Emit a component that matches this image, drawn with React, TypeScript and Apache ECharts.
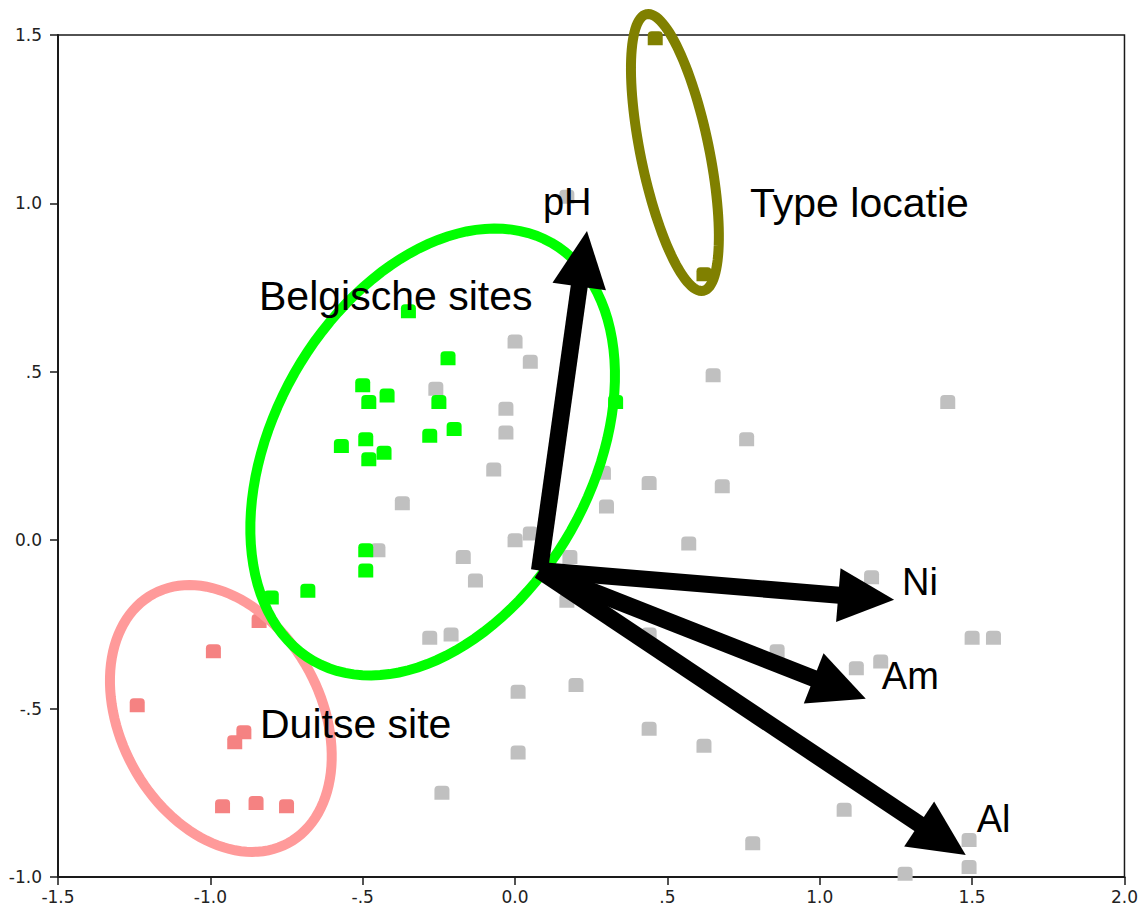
import React, { useEffect, useRef } from "react";
import * as echarts from "echarts";

// Axis ticks and their printed labels
const xTickValues = [-1.5, -1.0, -0.5, 0.0, 0.5, 1.0, 1.5, 2.0];
const xTickLabels = ["-1.5", "-1.0", "-.5", "0.0", ".5", "1.0", "1.5", "2.0"];
const yTickValues = [-1.0, -0.5, 0.0, 0.5, 1.0, 1.5];
const yTickLabels = ["-1.0", "-.5", "0.0", ".5", "1.0", "1.5"];

// Site scores [component 1, component 2]
const otherSites: [number, number][] = [
  [0.65, 0.49], [0.76, 0.30], [1.42, 0.41], [0.44, 0.17], [0.68, 0.16],
  [0.29, 0.20], [0.30, 0.10], [0.57, -0.01], [1.17, -0.11], [1.50, -0.29],
  [1.57, -0.29], [0.86, -0.33], [1.12, -0.38], [1.20, -0.36], [0.44, -0.28],
  [1.08, -0.80], [0.78, -0.90], [1.49, -0.89], [1.49, -0.97], [1.28, -0.99],
  [0.01, -0.45], [0.20, -0.43], [-0.28, -0.29], [-0.21, -0.28], [0.01, -0.63],
  [0.44, -0.56], [0.62, -0.61], [-0.24, -0.75], [-0.37, 0.11], [-0.45, -0.03],
  [-0.17, -0.05], [-0.13, -0.12], [0.0, 0.0], [0.05, 0.02], [0.18, -0.05],
  [0.17, -0.18], [0.0, 0.59], [0.05, 0.53], [-0.03, 0.39], [-0.03, 0.32],
  [-0.07, 0.21], [-0.26, 0.45], [0.17, 1.02],
];
const belgianSites: [number, number][] = [
  [-0.35, 0.68], [-0.22, 0.54], [-0.50, 0.46], [-0.42, 0.43], [-0.48, 0.41],
  [-0.25, 0.41], [-0.20, 0.33], [-0.28, 0.31], [-0.49, 0.30], [-0.57, 0.28],
  [-0.43, 0.26], [-0.48, 0.24], [-0.49, -0.03], [-0.49, -0.09], [-0.80, -0.17],
  [-0.68, -0.15], [0.33, 0.41],
];
const germanSites: [number, number][] = [
  [-0.84, -0.24], [-0.99, -0.33], [-1.24, -0.49], [-0.89, -0.57], [-0.92, -0.60],
  [-0.96, -0.79], [-0.85, -0.78], [-0.75, -0.79],
];
const locationTypeSites: [number, number][] = [
  [0.46, 1.49], [0.62, 0.79],
];

// Variable loadings drawn as arrows from a common origin
const loadingNames = ["pH", "Ni", "Am", "Al"];
const loadingOrigin: [number, number] = [0.08, -0.09];
const loadingTips: [number, number][] = [
  [0.236, 0.918], [1.244, -0.177], [1.151, -0.471], [1.479, -0.935],
];

// Group outlines: centre plus two conjugate semi-axis vectors, in data units
const outlineCentres: [number, number][] = [
  [-0.9656, -0.5294], // Duitse site
  [0.5246, 1.1511],   // Type locatie
  [-0.2705, 0.2619],  // Belgische sites
];
const outlineAxisU: [number, number][] = [
  [-0.221, 0.370], [-0.0931, 0.4106], [0.390, 0.621],
];
const outlineAxisV: [number, number][] = [
  [0.2892, 0.1416], [0.1102, 0.0205], [0.4538, -0.2337],
];
const outlineColors = ["#ff9a9a", "#808000", "#00ff00"];

// Pixel offsets of the arrow captions from the arrow tips
const captionOffsets: [number, number][] = [[-44, -29], [8, -18], [16, -23], [11, -36]];

const FONT = '"Liberation Sans", Arial, Helvetica, sans-serif';
const TICK_FONT = '"DejaVu Sans", Verdana, sans-serif';
const MARKER = "path://M0,4 Q0,0 4,0 L11,0 Q15,0 15,4 L15,14 L0,14 Z";

const tickFormatter = (vals: number[], labels: string[]) => (v: number) => {
  const i = vals.findIndex((t) => Math.abs(t - v) < 1e-6);
  return i >= 0 ? labels[i] : "";
};

const scatter = (data: [number, number][], color: string, z: number) => ({
  type: "scatter",
  data,
  symbol: MARKER,
  symbolSize: [15, 14],
  itemStyle: { color, opacity: 1 },
  clip: false,
  z,
  silent: true,
});

export default function App() {
  const ref = useRef<HTMLDivElement>(null);

  useEffect(() => {
    document.body.style.margin = "0";
    if (!ref.current) return;
    const chart = echarts.init(ref.current, undefined, { renderer: "svg" });

    const axisCommon = {
      type: "value",
      axisLine: { show: true, onZero: false, lineStyle: { color: "#1a1a1a", width: 2 } },
      axisTick: { show: true, length: 8, lineStyle: { color: "#1a1a1a", width: 1.5 } },
      splitLine: { show: false },
    };

    const option: any = {
      animation: false,
      backgroundColor: "#ffffff",
      grid: {
        left: 58, right: 16, top: 35, bottom: 33,
        show: true, borderColor: "#1a1a1a", borderWidth: 1.5,
      },
      xAxis: {
        ...axisCommon,
        min: -1.5, max: 2.0, interval: 0.5,
        axisLabel: {
          formatter: tickFormatter(xTickValues, xTickLabels),
          fontSize: 17, color: "#222", margin: 11, fontFamily: TICK_FONT,
          showMinLabel: true, showMaxLabel: true,
        },
      },
      yAxis: {
        ...axisCommon,
        min: -1.0, max: 1.5, interval: 0.5,
        axisLabel: {
          formatter: tickFormatter(yTickValues, yTickLabels),
          fontSize: 17, color: "#222", margin: 16, fontFamily: TICK_FONT,
          showMinLabel: true, showMaxLabel: true,
        },
      },
      series: [
        scatter(otherSites, "#c0c0c0", 2),
        scatter(belgianSites, "#00ff00", 3),
        scatter(germanSites, "#f58282", 3),
        scatter(locationTypeSites, "#808000", 3),
        {
          type: "custom",
          coordinateSystem: "cartesian2d",
          data: outlineCentres,
          z: 5,
          silent: true,
          renderItem: (params: any, api: any) => {
            const i = params.dataIndex;
            const cx = api.value(0);
            const cy = api.value(1);
            const u = outlineAxisU[i];
            const v = outlineAxisV[i];
            const pts: number[][] = [];
            const n = 120;
            for (let k = 0; k < n; k++) {
              const t = (k / n) * Math.PI * 2;
              pts.push(api.coord([
                cx + u[0] * Math.cos(t) + v[0] * Math.sin(t),
                cy + u[1] * Math.cos(t) + v[1] * Math.sin(t),
              ]));
            }
            return {
              type: "polygon",
              shape: { points: pts },
              style: { fill: "none", stroke: outlineColors[i], lineWidth: 10 },
            };
          },
        },
        {
          type: "custom",
          coordinateSystem: "cartesian2d",
          data: loadingTips,
          z: 6,
          silent: true,
          renderItem: (params: any, api: any) => {
            const i = params.dataIndex;
            const o = api.coord(loadingOrigin);
            const p = api.coord([api.value(0), api.value(1)]);
            const dx = p[0] - o[0];
            const dy = p[1] - o[1];
            const len = Math.sqrt(dx * dx + dy * dy);
            const ux = dx / len;
            const uy = dy / len;
            const nx = -uy;
            const ny = ux;
            const headLen = 56;
            const headHalf = 27;
            const shaftHalf = 8.5;
            const bx = p[0] - ux * headLen;
            const by = p[1] - uy * headLen;
            const ex = p[0] - ux * (headLen - 4);
            const ey = p[1] - uy * (headLen - 4);
            const off = captionOffsets[i];
            return {
              type: "group",
              children: [
                {
                  type: "polygon",
                  shape: {
                    points: [
                      [o[0] + nx * shaftHalf, o[1] + ny * shaftHalf],
                      [ex + nx * shaftHalf, ey + ny * shaftHalf],
                      [ex - nx * shaftHalf, ey - ny * shaftHalf],
                      [o[0] - nx * shaftHalf, o[1] - ny * shaftHalf],
                    ],
                  },
                  style: { fill: "#000" },
                },
                {
                  type: "polygon",
                  shape: {
                    points: [
                      [p[0], p[1]],
                      [bx + nx * headHalf, by + ny * headHalf],
                      [bx - nx * headHalf, by - ny * headHalf],
                    ],
                  },
                  style: { fill: "#000" },
                },
                {
                  type: "text",
                  x: p[0] + off[0],
                  y: p[1] + off[1],
                  style: {
                    text: loadingNames[i],
                    fontSize: 38,
                    fontFamily: FONT,
                    fill: "#000",
                    align: "left",
                    verticalAlign: "middle",
                  },
                },
              ],
            };
          },
        },
      ],
      graphic: [
        { text: "Belgische sites", x: 259, y: 296 },
        { text: "Duitse site", x: 260, y: 724 },
        { text: "Type locatie", x: 750, y: 203 },
      ].map((g) => ({
        type: "text",
        x: g.x,
        y: g.y,
        z: 100,
        silent: true,
        style: {
          text: g.text,
          fontSize: 41,
          fontFamily: FONT,
          fill: "#000",
          align: "left",
          verticalAlign: "middle",
        },
      })),
    };

    chart.setOption(option);
    return () => chart.dispose();
  }, []);

  return <div ref={ref} style={{ width: 1141, height: 910 }} />;
}
